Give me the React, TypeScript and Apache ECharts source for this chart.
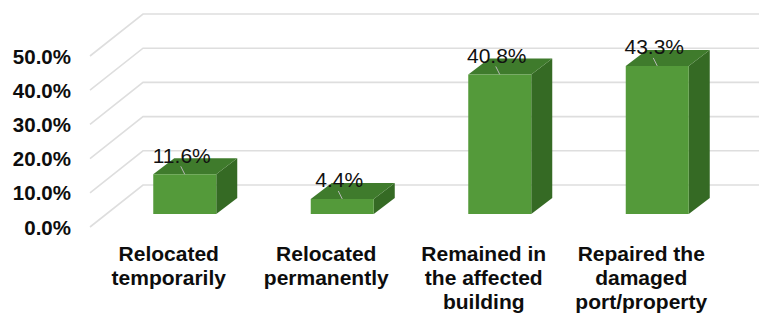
import React, { useEffect, useRef } from "react";
import * as echarts from "echarts";

const categories = [
  "Relocated\ntemporarily",
  "Relocated\npermanently",
  "Remained in\nthe affected\nbuilding",
  "Repaired the\ndamaged\nport/property",
];
const values = [11.6, 4.4, 40.8, 43.3];
const yTicks = [0, 10, 20, 30, 40, 50];

const FONT = "'Liberation Sans', Arial, sans-serif";

export default function App() {
  const ref = useRef<HTMLDivElement>(null);
  useEffect(() => {
    document.body.style.margin = "0";
    if (!ref.current) return;
    const chart = echarts.init(ref.current, null, { renderer: "svg" });

    // depth offsets (pixels) between planes of the pseudo-3D chart
    const WALL_DX = 53, WALL_DY = -42;
    const FRONT_DX = 16, FRONT_DY = -13;
    const DEPTH_DX = 21, DEPTH_DY = -16;

    chart.setOption({
      animation: false,
      grid: { left: 90, right: 39, top: 56, bottom: 86 },
      xAxis: {
        type: "category",
        data: categories,
        axisLine: { show: false },
        axisTick: { show: false },
        splitLine: { show: false },
        axisLabel: {
          interval: 0,
          margin: 14,
          color: "#0d0d0d",
          fontFamily: FONT,
          fontWeight: "bold",
          fontSize: 21,
          lineHeight: 24,
        },
      },
      yAxis: {
        type: "value",
        min: 0,
        max: 50,
        interval: 10,
        axisLine: { show: false },
        axisTick: { show: false },
        splitLine: { show: false },
        axisLabel: {
          margin: 19,
          color: "#0d0d0d",
          fontFamily: FONT,
          fontWeight: "bold",
          fontSize: 20.5,
          formatter: (v: number) => v.toFixed(1) + "%",
        },
      },
      series: [
        {
          type: "custom",
          z: 1,
          data: yTicks.map((v) => [0, v]),
          encode: { x: 0, y: 1 },
          renderItem: (params: any, api: any) => {
            const cs = params.coordSys;
            const y = api.coord([0, api.value(1)])[1];
            return {
              type: "polyline",
              shape: {
                points: [
                  [cs.x, y],
                  [cs.x + WALL_DX, y + WALL_DY],
                  [cs.x + cs.width + 80, y + WALL_DY],
                ],
              },
              style: { stroke: "#dedede", lineWidth: 1.6, fill: null },
            };
          },
        },
        {
          type: "custom",
          z: 2,
          data: values.map((v, i) => [i, v]),
          encode: { x: 0, y: 1 },
          renderItem: (params: any, api: any) => {
            const i = api.value(0);
            const v = api.value(1);
            const base = api.coord([i, 0]);
            const top = api.coord([i, v]);
            const band = api.size([1, 0])[0];
            const w = band * 0.4;
            const cx = base[0] + FRONT_DX;
            const x0 = cx - w / 2;
            const x1 = cx + w / 2;
            const yT = top[1] + FRONT_DY;
            const yB = base[1] + FRONT_DY;
            return {
              type: "group",
              children: [
                {
                  type: "polygon",
                  shape: {
                    points: [
                      [x1, yT],
                      [x1 + DEPTH_DX, yT + DEPTH_DY],
                      [x1 + DEPTH_DX, yB + DEPTH_DY],
                      [x1, yB],
                    ],
                  },
                  style: { fill: "#356a24" },
                },
                {
                  type: "polygon",
                  shape: {
                    points: [
                      [x0, yT],
                      [x1, yT],
                      [x1 + DEPTH_DX, yT + DEPTH_DY],
                      [x0 + DEPTH_DX, yT + DEPTH_DY],
                    ],
                  },
                  style: { fill: "#3f7b2c" },
                },
                {
                  type: "rect",
                  shape: { x: x0, y: yT, width: w, height: yB - yT },
                  style: { fill: "#549a3a" },
                },
                {
                  type: "line",
                  shape: { x1: cx - 4, y1: yT - 8, x2: cx, y2: yT },
                  style: { stroke: "#b8b8b8", lineWidth: 1 },
                },
                {
                  type: "text",
                  x: cx - 3,
                  y: yT - 19,
                  style: {
                    text: v.toFixed(1) + "%",
                    fill: "#111",
                    font: `21px ${FONT}`,
                    align: "center",
                    verticalAlign: "middle",
                  },
                },
              ],
            };
          },
        },
      ],
    });
    return () => chart.dispose();
  }, []);
  return <div ref={ref} style={{ width: 759, height: 313 }} />;
}
